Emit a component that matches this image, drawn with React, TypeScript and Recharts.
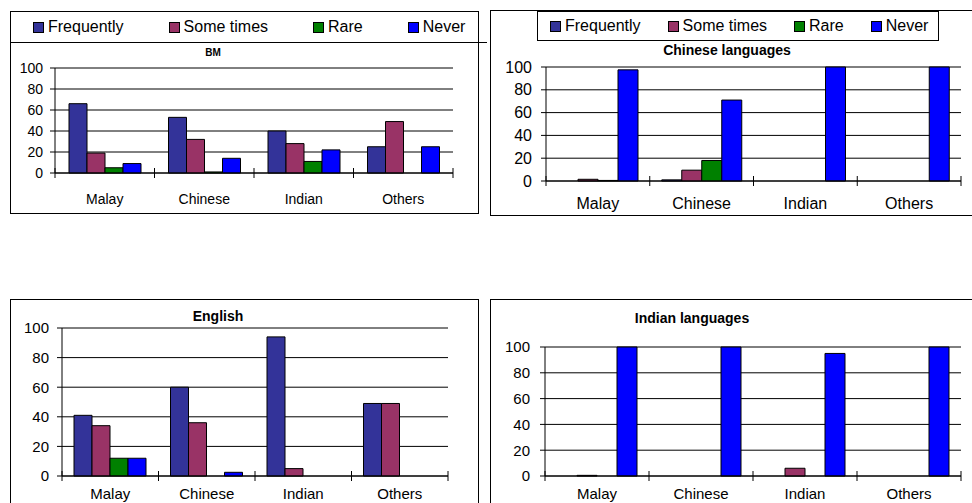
import React from 'react';
import { BarChart, Bar, XAxis, YAxis, CartesianGrid } from 'recharts';

const categories = ['Malay', 'Chinese', 'Indian', 'Others'];
const seriesNames = ['Frequently', 'Some times', 'Rare', 'Never'];
const seriesColors = ['#333399', '#993366', '#008000', '#0000FF'];
const yTicks = [0, 20, 40, 60, 80, 100];

const bmFrequently = [66, 53, 40, 25];
const bmSomeTimes = [19, 32, 28, 49];
const bmRare = [5, 1, 11, 0];
const bmNever = [9, 14, 22, 25];

const chineseFrequently = [0, 1, 0, 0];
const chineseSomeTimes = [1.5, 9.5, 0, 0];
const chineseRare = [0.5, 18, 0, 0];
const chineseNever = [97.5, 71, 100, 100];

const englishFrequently = [41, 60, 94, 49];
const englishSomeTimes = [34, 36, 5, 49];
const englishRare = [12, 0, 0, 0];
const englishNever = [12, 2.5, 0, 0];

const indianFrequently = [0, 0, 0, 0];
const indianSomeTimes = [0.5, 0, 6, 0];
const indianRare = [0, 0, 0, 0];
const indianNever = [100, 100, 95, 100];

const FONT = '"Liberation Sans", Arial, sans-serif';

const makeRows = (f: number[], s: number[], r: number[], n: number[]) =>
  categories.map((name, i) => ({ name, s0: f[i], s1: s[i], s2: r[i], s3: n[i] }));

type Geo = {
  plotLeft: number;
  plotTop: number;
  plotW: number;
  plotH: number;
  fontSize: number;
  tickMargin: number;
  labelDy: number;
  gap: number;
};

function ChartPanel({ rows, geo }: { rows: any[]; geo: Geo }) {
  const step = geo.plotW / categories.length;
  const renderTick = (p: any) => {
    const { x, y, payload, index } = p;
    return (
      <g>
        <line x1={x - step / 2} x2={x - step / 2} y1={y - 5} y2={y + 5} stroke="#000" />
        {index === categories.length - 1 && (
          <line x1={x + step / 2} x2={x + step / 2} y1={y - 5} y2={y + 5} stroke="#000" />
        )}
        <text
          x={x}
          y={y + geo.labelDy}
          textAnchor="middle"
          dominantBaseline="central"
          fill="#000"
          fontSize={geo.fontSize}
          fontFamily={FONT}
        >
          {payload.value}
        </text>
      </g>
    );
  };

  return (
    <div style={{ position: 'absolute', left: geo.plotLeft - 50, top: geo.plotTop - 10 }}>
      <BarChart
        width={geo.plotW + 60}
        height={geo.plotH + 55}
        data={rows}
        margin={{ top: 10, right: 10, bottom: 0, left: 0 }}
        barCategoryGap={geo.gap}
        barGap={0}
      >
        <CartesianGrid vertical={false} stroke="#000" />
        <XAxis
          dataKey="name"
          height={45}
          axisLine={{ stroke: '#000' }}
          tickLine={false}
          tickSize={0}
          tickMargin={0}
          interval={0}
          tick={renderTick}
        />
        <YAxis
          width={50}
          domain={[0, 100]}
          ticks={yTicks}
          interval={0}
          axisLine={{ stroke: '#000' }}
          tickLine={{ stroke: '#000' }}
          tickSize={5}
          tickMargin={geo.tickMargin}
          tick={{ fill: '#000', fontSize: geo.fontSize, fontFamily: FONT }}
        />
        {seriesNames.map((name, i) => (
          <Bar
            key={name}
            dataKey={'s' + i}
            name={name}
            fill={seriesColors[i]}
            stroke="#000"
            strokeWidth={1}
            isAnimationActive={false}
          />
        ))}
      </BarChart>
    </div>
  );
}

function LegendRow({ gap, fontSize }: { gap: number; fontSize: number }) {
  return (
    <div style={{ display: 'flex', alignItems: 'center', gap, fontSize, fontFamily: FONT, whiteSpace: 'nowrap' }}>
      {seriesNames.map((name, i) => (
        <div key={name} style={{ display: 'flex', alignItems: 'center' }}>
          <span
            style={{
              width: 11,
              height: 11,
              boxSizing: 'border-box',
              border: '1px solid #000',
              background: seriesColors[i],
              marginRight: 4,
            }}
          />
          <span>{name}</span>
        </div>
      ))}
    </div>
  );
}

function Title({ text, cx, cy, size }: { text: string; cx: number; cy: number; size: number }) {
  return (
    <div
      style={{
        position: 'absolute',
        left: cx - 150,
        width: 300,
        top: cy - size / 2,
        height: size,
        lineHeight: size + 'px',
        textAlign: 'center',
        fontWeight: 'bold',
        fontSize: size,
        fontFamily: FONT,
      }}
    >
      {text}
    </div>
  );
}

const boxStyle = (left: number, top: number, width: number, height: number): React.CSSProperties => ({
  position: 'absolute',
  left,
  top,
  width,
  height,
  boxSizing: 'border-box',
  border: '1px solid #000',
});

export default function App() {
  return (
    <div
      style={{
        position: 'absolute',
        left: 0,
        top: 0,
        width: 972,
        height: 503,
        overflow: 'hidden',
        background: '#fff',
        fontFamily: FONT,
      }}
    >
      {/* BM */}
      <div style={boxStyle(10, 11, 469, 203)} />
      <div style={{ position: 'absolute', left: 10, top: 42, width: 477, borderTop: '1px solid #000' }} />
      <div style={{ position: 'absolute', left: 33, top: 18, height: 18 }}>
        <LegendRow gap={45} fontSize={16} />
      </div>
      <Title text="BM" cx={213} cy={53} size={10} />
      <ChartPanel
        rows={makeRows(bmFrequently, bmSomeTimes, bmRare, bmNever)}
        geo={{ plotLeft: 55, plotTop: 68, plotW: 398, plotH: 105, fontSize: 14, tickMargin: 7, labelDy: 26, gap: 14 }}
      />

      {/* Chinese languages */}
      <div style={boxStyle(490, 10, 500, 206)} />
      <div
        style={{
          ...boxStyle(537, 11, 402, 30),
          display: 'flex',
          alignItems: 'center',
          paddingLeft: 12,
        }}
      >
        <LegendRow gap={27} fontSize={16} />
      </div>
      <Title text="Chinese languages" cx={727} cy={50} size={14} />
      <ChartPanel
        rows={makeRows(chineseFrequently, chineseSomeTimes, chineseRare, chineseNever)}
        geo={{ plotLeft: 546, plotTop: 67, plotW: 415, plotH: 114, fontSize: 16, tickMargin: 9, labelDy: 22, gap: 12 }}
      />

      {/* English */}
      <div style={boxStyle(10, 299, 469, 250)} />
      <Title text="English" cx={218} cy={316} size={14} />
      <ChartPanel
        rows={makeRows(englishFrequently, englishSomeTimes, englishRare, englishNever)}
        geo={{ plotLeft: 62, plotTop: 328, plotW: 386, plotH: 148, fontSize: 15, tickMargin: 8, labelDy: 17, gap: 12 }}
      />

      {/* Indian languages */}
      <div style={boxStyle(490, 299, 500, 250)} />
      <Title text="Indian languages" cx={692} cy={318} size={14} />
      <ChartPanel
        rows={makeRows(indianFrequently, indianSomeTimes, indianRare, indianNever)}
        geo={{ plotLeft: 545, plotTop: 347, plotW: 416, plotH: 129, fontSize: 15, tickMargin: 10, labelDy: 17, gap: 12 }}
      />
    </div>
  );
}
